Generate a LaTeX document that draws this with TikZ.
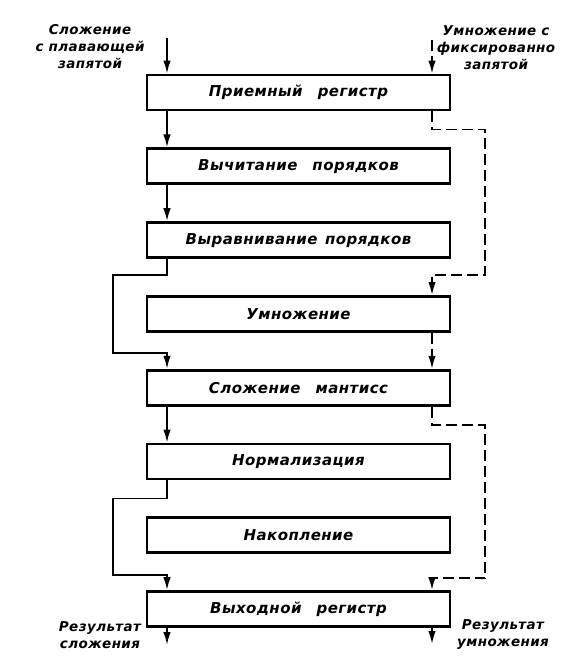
\documentclass[tikz,border=0pt]{standalone}
\usepackage{fontspec}
\setmainfont{DejaVu Sans}[LetterSpace=3]
\usetikzlibrary{arrows.meta,calc,positioning}

\begin{document}
\begin{tikzpicture}[x=1pt, y=-1pt, node distance=36pt,
  every node/.style={font=\fontsize{15}{18}\selectfont\bfseries\itshape},
  unit/.style={draw, line width=2.8pt, minimum width=303pt, minimum height=35pt, inner sep=0pt},
  note/.style={align=center, font=\fontsize{13.5}{17}\selectfont\bfseries\itshape},
  addpath/.style={line width=1.8pt, -{Latex[length=13pt,width=7.5pt]}},
  mulpath/.style={addpath, dash pattern=on 11pt off 5pt}]
  \useasboundingbox (0,0) rectangle (560,669);
  \coordinate (L) at (167,0);
  \coordinate (R) at (432,0);
  \coordinate (LL) at (113,0);
  \coordinate (RR) at (485,0);
  \node[unit] (recv) at (298.5,92.5) {Приемный\quad регистр};
  \node[unit, below=of recv] (sub) {Вычитание\quad порядков};
  \node[unit, below=of sub] (align) {Выравнивание\enspace порядков};
  \node[unit, below=of align] (mul) {Умножение};
  \node[unit, below=of mul] (add) {Сложение\quad мантисс};
  \node[unit, below=of add] (norm) {Нормализация};
  \node[unit, below=of norm] (acc) {Накопление};
  \node[unit, below=of acc] (out) {Выходной\quad регистр};
  \node[note] (addin) at (90,47) {Сложение\\с плавающей\\запятой};
  \node[note] (mulin) at (496,48) {Умножение с\\фиксированно\\запятой};
  \node[note] (addres) at (100,635) {Результат\\сложения};
  \node[note] (mulres) at (503,635) {Результат\\умножения};
  \coordinate (addsrc) at (167,38);
  \coordinate (mulsrc) at (432,40);
  \coordinate (addend) at (167,645);
  \coordinate (mulend) at (432,644);
  \draw[addpath] (addsrc) -- (recv.north -| L);
  \draw[addpath] (recv.south -| L) -- (sub.north -| L);
  \draw[addpath] (sub.south -| L) -- (align.north -| L);
  \draw[addpath] (align.south -| L) -- ++(0,16) -| ($(add.north -| LL)+(0,-16)$) -- ($(add.north -| L)+(0,-16)$) -- (add.north -| L);
  \draw[addpath] (add.south -| L) -- (norm.north -| L);
  \draw[addpath] (norm.south -| L) -- ++(0,18) -| ($(out.north -| LL)+(0,-15)$) -- ($(out.north -| L)+(0,-15)$) -- (out.north -| L);
  \draw[addpath] (out.south -| L) -- (addend);
  \draw[mulpath] (mulsrc) -- (recv.north -| R);
  \draw[mulpath] (recv.south -| R) -- ++(0,18) -| ($(mul.north -| RR)+(0,-20)$) -- ($(mul.north -| R)+(0,-20)$) -- (mul.north -| R);
  \draw[mulpath] (mul.south -| R) -- (add.north -| R);
  \draw[mulpath] (add.south -| R) -- ++(0,18) -| ($(out.north -| RR)+(0,-12)$) -- ($(out.north -| R)+(0,-12)$) -- (out.north -| R);
  \draw[mulpath] (out.south -| R) -- (mulend);
\end{tikzpicture}
\end{document}
